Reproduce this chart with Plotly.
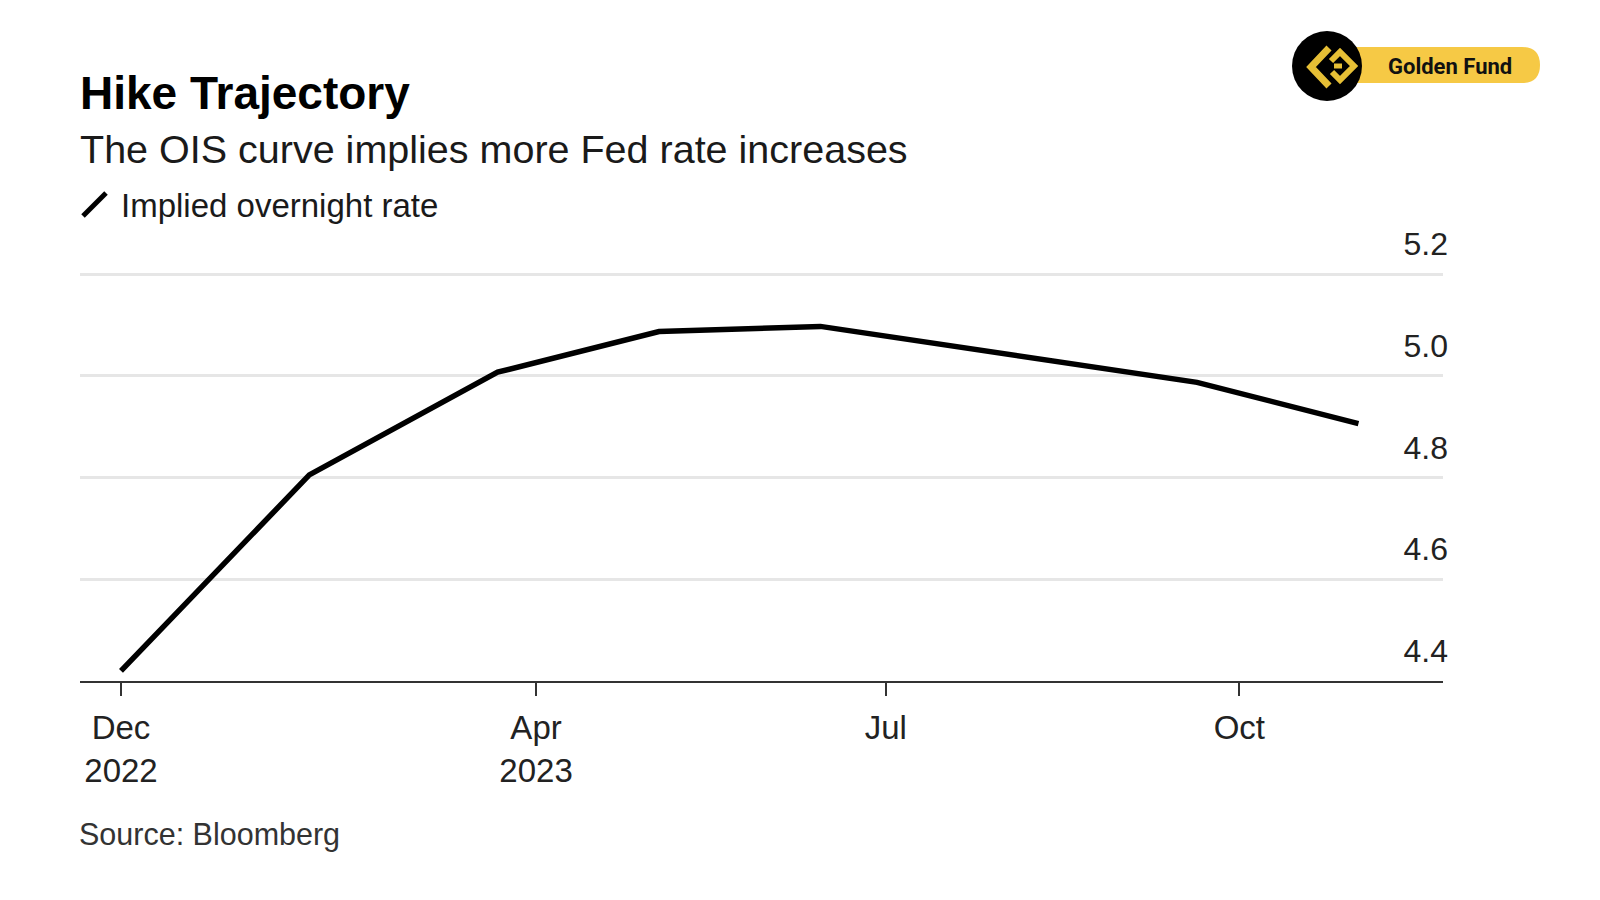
import plotly.graph_objects as go

# ---- data ----
dates = ["2022-12-14", "2023-02-01", "2023-03-22", "2023-05-03",
         "2023-06-14", "2023-09-20", "2023-11-01"]
rates = [4.42, 4.805, 5.007, 5.087, 5.097, 4.987, 4.906]

x_tick_vals = ["2022-12-14", "2023-04-01", "2023-07-01", "2023-10-01"]
x_tick_text = ["Dec<br>2022", "Apr<br>2023", "Jul", "Oct"]
y_tick_vals = [4.4, 4.6, 4.8, 5.0, 5.2]

title = "Hike Trajectory"
subtitle = "The OIS curve implies more Fed rate increases"
series_name = "Implied overnight rate"
source = "Source: Bloomberg"
brand = "Golden Fund"

# ---- layout geometry (page pixels) ----
W, H = 1600, 900
OFF = 8                      # default body margin of the html page
L, R = 80, 1443              # plot left / right
T, B = 225, 681              # plot top / bottom (axis line at 4.4)
Y_LO, Y_HI = 4.4, 5.2 + (274 - 225) / ((681 - 274) / 0.8)


def px(x):
    return (x - L) / (R - L)


def py(y):
    return (B - y) / (B - T)


FONT = "Liberation Sans, Arial, sans-serif"

fig = go.Figure()
fig.add_trace(go.Scatter(
    x=dates, y=rates, mode="lines", name=series_name,
    line=dict(color="#000000", width=5.5), hoverinfo="x+y",
))

annotations = [
    dict(text="<b>" + title + "</b>", x=px(78), y=py(93), xref="paper", yref="paper",
         xanchor="left", yanchor="middle", showarrow=False,
         font=dict(family=FONT, size=46, color="#000000")),
    dict(text=subtitle, x=px(78), y=py(149), xref="paper", yref="paper",
         xanchor="left", yanchor="middle", showarrow=False,
         font=dict(family=FONT, size=39.5, color="#1a1a1a")),
    dict(text=series_name, x=px(119), y=py(205), xref="paper", yref="paper",
         xanchor="left", yanchor="middle", showarrow=False,
         font=dict(family=FONT, size=33, color="#1a1a1a")),
    dict(text=source, x=px(77), y=py(834), xref="paper", yref="paper",
         xanchor="left", yanchor="middle", showarrow=False,
         font=dict(family=FONT, size=30.5, color="#333333")),
    dict(text="<b>" + brand + "</b>", x=px(1450), y=py(66), xref="paper", yref="paper",
         xanchor="center", yanchor="middle", showarrow=False,
         font=dict(family="Roboto, sans-serif", size=22, color="#111111")),
]

gold = "#F6C945"
glyph = "#E6BF35"
shapes = [
    # legend slash
    dict(type="line", xref="paper", yref="paper",
         x0=px(83), y0=py(216), x1=px(106), y1=py(193),
         line=dict(color="#000000", width=5)),
    # brand pill
    dict(type="path", xref="paper", yref="paper",
         path=("M {a},{t} L {b},{t} Q {c},{t} {c},{m} Q {c},{bo} {b},{bo} L {a},{bo} Z").format(
             a=px(1330), b=px(1522), c=px(1540), t=py(47), m=py(65), bo=py(83)),
         fillcolor=gold, line=dict(width=0)),
    # black circle
    dict(type="circle", xref="paper", yref="paper",
         x0=px(1292), x1=px(1362), y0=py(31), y1=py(101),
         fillcolor="#000000", line=dict(width=0)),
    # glyph chevron
    dict(type="path", xref="paper", yref="paper",
         path="M {},{} L {},{} L {},{}".format(px(1329), py(48), px(1311), py(67), px(1329), py(86)),
         line=dict(color=glyph, width=7)),
    # glyph diamond (open on the left)
    dict(type="path", xref="paper", yref="paper",
         path="M {},{} L {},{} L {},{} L {},{} L {},{}".format(
             px(1331), py(61), px(1340), py(52), px(1354), py(66),
             px(1340), py(80), px(1332), py(72)),
         line=dict(color=glyph, width=6)),
    dict(type="line", xref="paper", yref="paper",
         x0=px(1334), y0=py(66), x1=px(1342), y1=py(66),
         line=dict(color=glyph, width=5)),
]

fig.update_layout(
    width=W, height=H,
    margin=dict(l=L - OFF, r=W - (R - OFF), t=T - OFF, b=H - (B - OFF), autoexpand=False),
    paper_bgcolor="#ffffff", plot_bgcolor="#ffffff",
    showlegend=False,
    annotations=annotations,
    shapes=shapes,
    font=dict(family=FONT, color="#222222"),
)

fig.update_xaxes(
    type="date",
    range=["2022-12-03 08:00", "2023-11-23"],
    tickvals=x_tick_vals, ticktext=x_tick_text,
    ticks="outside", ticklen=13, tickwidth=1.5, tickcolor="#333333",
    showline=True, linecolor="#333333", linewidth=2,
    showgrid=False, zeroline=False,
    tickfont=dict(family=FONT, size=33, color="#222222"),
    ticklabelstandoff=3,
)

fig.update_yaxes(
    range=[Y_LO, Y_HI],
    tickvals=y_tick_vals, tickformat=".1f",
    side="right", ticklabelposition="inside",
    ticks="", showline=False, zeroline=False,
    showgrid=True, gridcolor="#e6e6e6", gridwidth=2.5,
    tickfont=dict(family=FONT, size=32, color="#222222"),
    ticklabelshift=-30,
    ticklabelstandoff=-8,
)

fig.write_html("out.html")
